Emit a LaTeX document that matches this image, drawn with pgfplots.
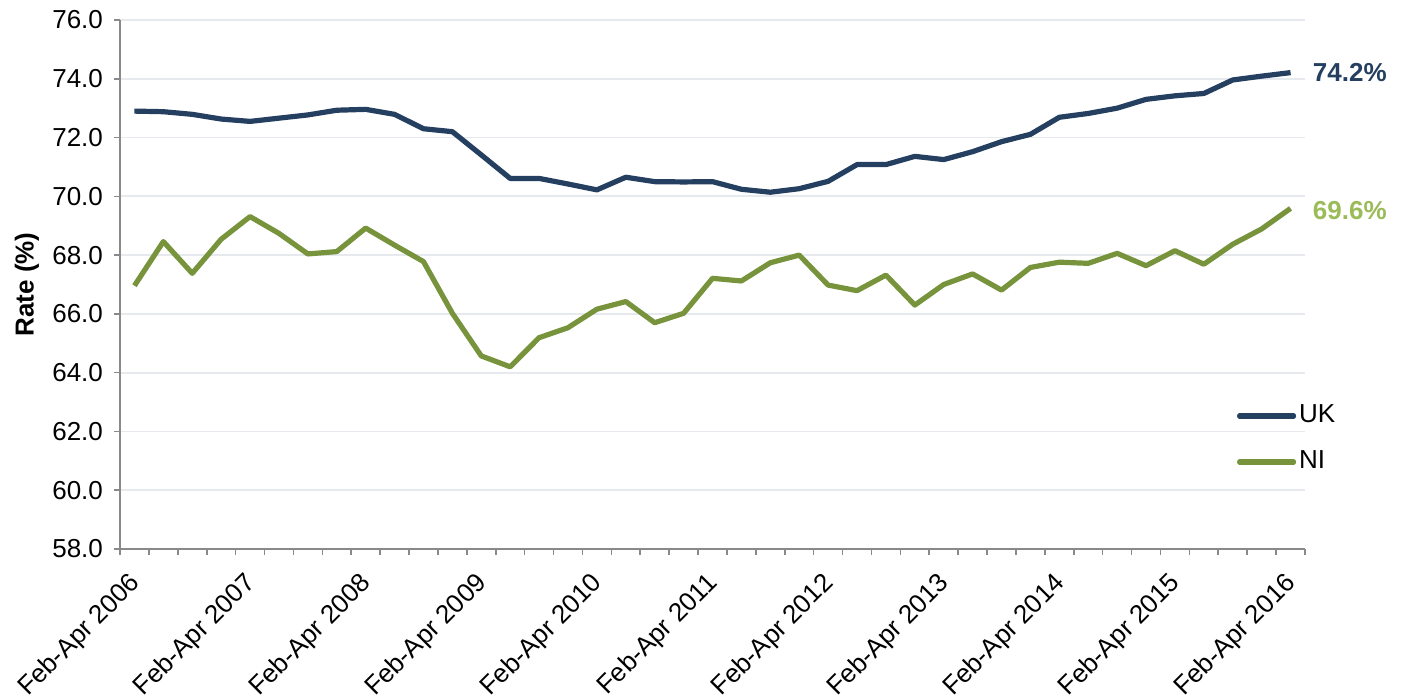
\documentclass[border=0pt]{standalone}
\usepackage{pgfplots}
\pgfplotsset{compat=1.18}
\usepackage{fontspec}
\setmainfont{Liberation Sans}
\definecolor{ukblue}{RGB}{36,63,96}
\definecolor{nigreen}{RGB}{119,147,60}
\definecolor{nilabel}{RGB}{155,187,89}
\definecolor{gridc}{RGB}{230,233,238}
\definecolor{axisc}{RGB}{137,137,137}
\begin{document}
\begin{tikzpicture}
\useasboundingbox (0,0) rectangle (701.5pt,349pt);
\begin{axis}[
  at={(60pt,74.5pt)}, anchor=south west,
  scale only axis, width=592.5pt, height=264.5pt,
  xmin=-0.5, xmax=40.5, ymin=58, ymax=76,
  axis x line*=bottom, axis y line*=left,
  axis line style={axisc, line width=0.8pt},
  every tick/.style={axisc, line width=0.8pt},
  tick align=outside, major tick length=3pt,
  ytick={58,60,...,76},
  ymajorgrids, grid style={gridc, line width=0.9pt},
  xtick={-0.5,0.5,...,40.5}, xticklabels={},
  extra x ticks={0,4,...,40},
  extra x tick labels={Feb-Apr 2006,Feb-Apr 2007,Feb-Apr 2008,Feb-Apr 2009,Feb-Apr 2010,Feb-Apr 2011,Feb-Apr 2012,Feb-Apr 2013,Feb-Apr 2014,Feb-Apr 2015,Feb-Apr 2016},
  extra x tick style={major tick length=0pt, grid=none,
     tick label style={rotate=45, anchor=north east, inner sep=0pt, yshift=-5.1pt, xshift=-10.1pt}},
  /pgf/number format/assume math mode=true,
  yticklabel={\pgfmathprintnumber[fixed,fixed zerofill,precision=1,assume math mode=true]{\tick}},
  tick label style={font=\fontsize{13}{15}\selectfont, black},
  yticklabel style={xshift=-2pt},
  ylabel={Rate (\%)},
  ylabel style={font=\fontsize{13}{15}\selectfont\bfseries, at={(axis description cs:-0.068,0.5)}, anchor=south, inner sep=0pt},
  legend style={draw=none, fill=none, at={(axis description cs:0.9426,0.208)}, anchor=west,
     inner sep=0pt, outer sep=0pt,
     font=\fontsize{13}{15}\selectfont, row sep=11pt, column sep=0pt,
     nodes={inner sep=0pt, outer sep=0pt, text height=9.5pt, text depth=2.5pt}},
  legend cell align=left,
  legend image code/.code={\draw[#1, line cap=round] (0pt,0pt) -- (27pt,0pt);},
  clip=false,
]
\addplot[ukblue, line width=2.6pt, line join=round] coordinates {
(0,72.90) (1,72.88) (2,72.79) (3,72.63) (4,72.55) (5,72.66) (6,72.77) (7,72.93) (8,72.96) (9,72.79)
(10,72.30) (11,72.20) (12,71.41) (13,70.61) (14,70.61) (15,70.42) (16,70.22) (17,70.65) (18,70.50) (19,70.49)
(20,70.50) (21,70.24) (22,70.14) (23,70.26) (24,70.51) (25,71.08) (26,71.08) (27,71.36) (28,71.25) (29,71.52)
(30,71.86) (31,72.11) (32,72.69) (33,72.82) (34,73.00) (35,73.30) (36,73.42) (37,73.50) (38,73.96) (39,74.09)
(40,74.21)};
\addlegendentry{\hspace{1.5pt}UK}
\addplot[nigreen, line width=2.6pt, line join=round] coordinates {
(0,66.96) (1,68.46) (2,67.38) (3,68.54) (4,69.31) (5,68.74) (6,68.04) (7,68.12) (8,68.92) (9,68.34)
(10,67.78) (11,66.02) (12,64.57) (13,64.20) (14,65.19) (15,65.53) (16,66.16) (17,66.42) (18,65.70) (19,66.02)
(20,67.21) (21,67.12) (22,67.74) (23,68.00) (24,66.98) (25,66.79) (26,67.32) (27,66.30) (28,67.00) (29,67.36)
(30,66.81) (31,67.58) (32,67.76) (33,67.72) (34,68.06) (35,67.64) (36,68.15) (37,67.69) (38,68.37) (39,68.89)
(40,69.59)};
\addlegendentry{\hspace{1.5pt}NI}
\node[anchor=west, inner sep=0pt, xshift=11pt, text=ukblue, font=\fontsize{13}{15}\selectfont\bfseries] at (axis cs:40,74.21) {74.2\%};
\node[anchor=west, inner sep=0pt, xshift=11pt, yshift=-1pt, text=nilabel, font=\fontsize{13}{15}\selectfont\bfseries] at (axis cs:40,69.59) {69.6\%};
\end{axis}
\end{tikzpicture}
\end{document}
